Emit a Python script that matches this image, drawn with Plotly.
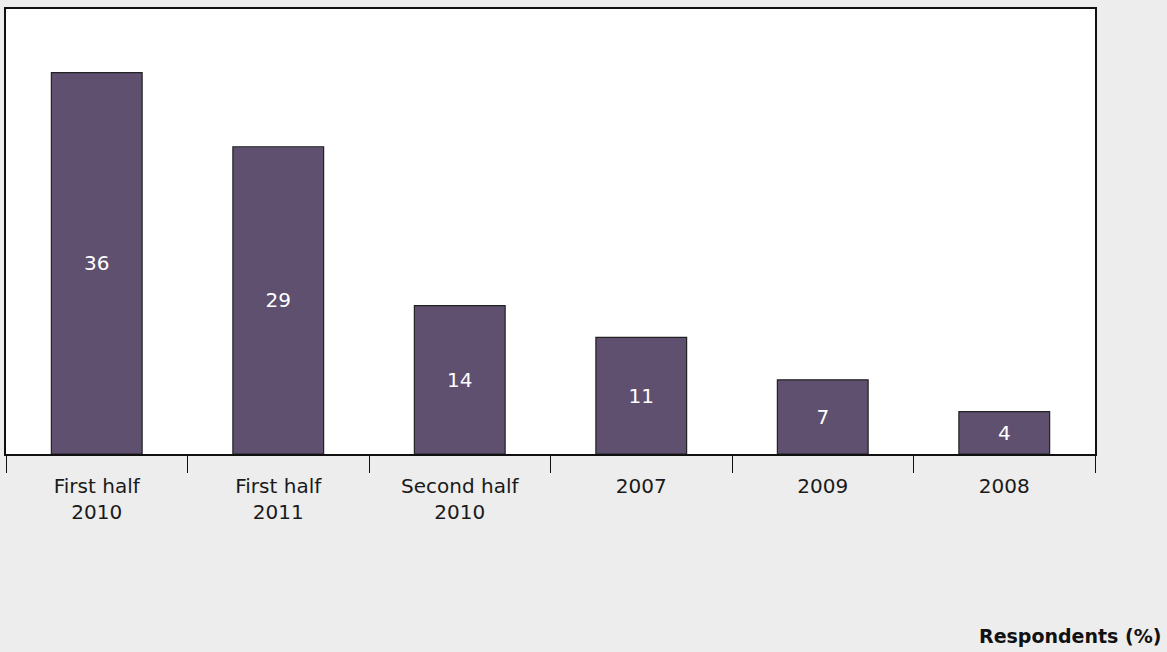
import plotly.graph_objects as go

categories = ["First half<br>2010", "First half<br>2011", "Second half<br>2010", "2007", "2009", "2008"]
values = [36, 29, 14, 11, 7, 4]
axis_title = "Respondents (%)"

fig = go.Figure(go.Bar(
    x=categories, y=values,
    text=[str(v) for v in values],
    textposition="inside", insidetextanchor="middle",
    textfont=dict(family="DejaVu Sans", size=20, color="white"),
    marker=dict(color="#5f5070", line=dict(color="#222222", width=1.2)),
    width=0.5,
))

fig.update_layout(
    width=1167, height=652,
    margin=dict(l=6, r=72, t=9, b=198),
    paper_bgcolor="#ededed", plot_bgcolor="white",
    showlegend=False,
    font=dict(family="DejaVu Sans", size=20, color="#1a1a1a"),
    xaxis=dict(
        type="category", tickson="boundaries", ticks="outside", ticklen=17,
        tickcolor="#111111", tickwidth=1.2, ticklabelstandoff=13,
        showline=True, linecolor="#111111", linewidth=1.5, mirror=True,
        showgrid=False, tickfont=dict(size=20),
    ),
    yaxis=dict(
        range=[0, 42], showticklabels=False, showgrid=False, zeroline=False,
        showline=True, linecolor="#111111", linewidth=1.5, mirror=True, ticks="",
    ),
    annotations=[dict(
        text="<b>" + axis_title + "</b>", xref="paper", yref="paper",
        x=1.0625, y=-0.409, xanchor="right", yanchor="middle", showarrow=False,
        font=dict(size=19, color="#111111"),
    )],
)

fig.write_html("out.html", config={"displayModeBar": False},
               post_script="document.body.style.margin='0';")
